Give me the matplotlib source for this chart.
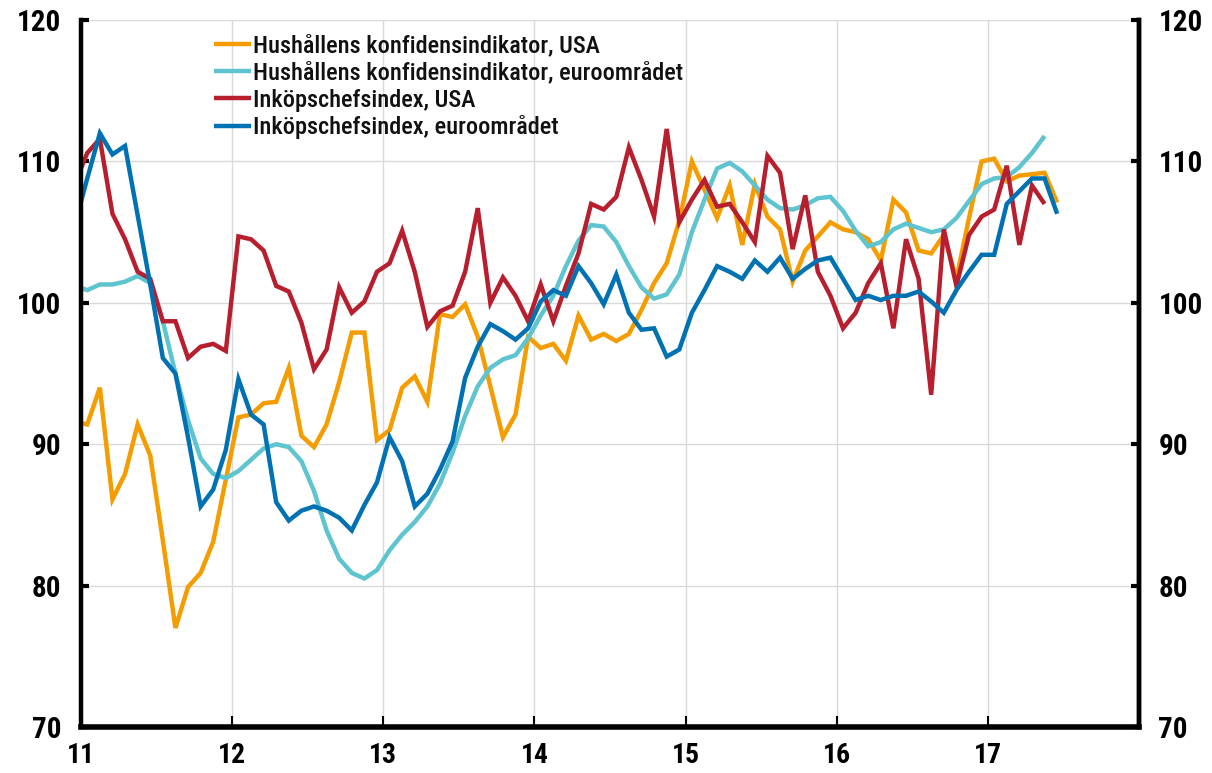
import numpy as np
import matplotlib
matplotlib.use("Agg")
import matplotlib.pyplot as plt
from matplotlib import font_manager as fm

# ---------------- data (monthly, Dec 2010 onward) ----------------
start_year = 2010
start_month = 12

konf_usa = [91.6, 91.4, 94.0, 86.1, 87.9, 91.4, 89.2, 83.2, 77.0, 79.9, 80.9, 83.1, 87.5,
            91.9, 92.1, 92.9, 93.0, 95.4, 90.6, 89.8, 91.4, 94.4, 97.9, 97.9, 90.3,
            91.0, 94.0, 94.8, 93.0, 99.2, 99.0, 99.9, 97.6, 94.1, 90.5, 92.1, 97.6,
            96.8, 97.1, 95.9, 99.1, 97.4, 97.8, 97.3, 97.8, 99.5, 101.4, 102.8, 105.8,
            110.0, 108.0, 106.0, 108.3, 104.1, 108.4, 106.1, 105.2, 101.5, 103.7, 104.7, 105.7,
            105.2, 105.0, 104.5, 103.0, 107.3, 106.4, 103.7, 103.5, 104.8, 101.7, 106.0, 110.0,
            110.2, 108.6, 109.0, 109.1, 109.2, 107.1]

konf_euro = [101.2, 100.9, 101.3, 101.3, 101.5, 101.9, 101.4, 98.7, 95.0, 91.7, 89.0, 87.9, 87.6,
             88.1, 88.9, 89.7, 90.0, 89.8, 88.8, 86.7, 83.9, 81.9, 80.9, 80.5, 81.1,
             82.5, 83.6, 84.5, 85.6, 87.2, 89.4, 92.0, 94.1, 95.4, 96.0, 96.3, 97.5,
             99.1, 100.5, 102.6, 104.4, 105.5, 105.4, 104.3, 102.6, 101.1, 100.3, 100.6, 102.0,
             105.0, 107.3, 109.5, 109.9, 109.3, 108.3, 107.3, 106.7, 106.6, 106.9, 107.4, 107.5,
             106.5, 105.1, 104.0, 104.3, 105.2, 105.6, 105.3, 105.0, 105.2, 106.0, 107.2, 108.4,
             108.8, 108.9, 109.6, 110.6, 111.8]

pmi_usa = [108.4, 110.6, 111.6, 106.3, 104.5, 102.2, 101.7, 98.7, 98.7, 96.1, 96.9, 97.1, 96.6,
           104.7, 104.5, 103.7, 101.2, 100.8, 98.6, 95.3, 96.7, 101.1, 99.3, 100.1, 102.2,
           102.8, 105.1, 102.2, 98.3, 99.4, 99.8, 102.2, 106.7, 100.0, 101.8, 100.5, 98.7,
           101.3, 98.7, 101.2, 103.5, 107.0, 106.6, 107.5, 111.0, 108.7, 106.1, 112.3, 105.7,
           107.3, 108.7, 106.8, 107.0, 105.7, 104.3, 110.4, 109.2, 103.8, 107.6, 102.2, 100.5,
           98.2, 99.3, 101.4, 102.8, 98.2, 104.5, 101.7, 93.5, 105.2, 101.2, 104.8, 106.1,
           106.6, 109.7, 104.1, 108.3, 107.0]

pmi_euro = [105.5, 108.8, 112.0, 110.5, 111.1, 106.2, 101.3, 96.1, 95.0, 90.5, 85.6, 86.8, 89.6,
            94.6, 92.1, 91.4, 85.9, 84.6, 85.3, 85.6, 85.3, 84.8, 83.9, 85.7, 87.3,
            90.5, 88.8, 85.6, 86.5, 88.2, 90.2, 94.7, 96.9, 98.5, 98.0, 97.4, 98.2,
            100.1, 100.9, 100.5, 102.6, 101.4, 99.9, 102.0, 99.3, 98.1, 98.2, 96.2, 96.7,
            99.3, 100.9, 102.6, 102.2, 101.7, 103.0, 102.2, 103.2, 101.7, 102.4, 103.0, 103.2,
            101.7, 100.2, 100.5, 100.2, 100.5, 100.5, 100.8, 100.1, 99.3, 100.9, 102.2, 103.4,
            103.4, 107.0, 107.9, 108.8, 108.8, 106.3]

series_labels = ["Hushållens konfidensindikator, USA",
                 "Hushållens konfidensindikator, euroområdet",
                 "Inköpschefsindex, USA",
                 "Inköpschefsindex, euroområdet"]
series_colors = ["#F59C00", "#5EC4D0", "#B81F2E", "#0072B4"]

x_ticks = [2011, 2012, 2013, 2014, 2015, 2016, 2017]
x_tick_labels = ["11", "12", "13", "14", "15", "16", "17"]
y_ticks = [70, 80, 90, 100, 110, 120]

# ---------------- fonts ----------------
avail = {f.name for f in fm.fontManager.ttflist}
family = "DejaVu Sans"
for cand in ["Liberation Sans Narrow", "Roboto Condensed", "Open Sans Condensed", "Liberation Sans"]:
    if cand in avail:
        family = cand
        break
plt.rcParams["font.family"] = [family, "DejaVu Sans"]


def month_pos(n):
    idx = np.arange(n)
    return start_year + (start_month - 1 + idx + 0.5) / 12.0


fig = plt.figure(figsize=(12.12, 7.73), dpi=100)
ax = fig.add_axes([0.0668, 0.0595, 0.873, 0.9145])

all_series = [konf_usa, konf_euro, pmi_usa, pmi_euro]
lines = []
for vals, lab, col in zip(all_series, series_labels, series_colors):
    xs = month_pos(len(vals))
    ln, = ax.plot(xs, vals, color=col, lw=3.2, label=lab, solid_joinstyle="miter",
                  solid_capstyle="butt", clip_on=True)
    lines.append(ln)

ax.set_xlim(2011, 2018)
ax.set_ylim(70, 120)
ax.set_yticks(y_ticks)
ax.set_xticks(x_ticks + [2018])
ax.set_xticklabels(x_tick_labels + [""])

ax.grid(True, color="#D9D9D9", lw=1.0)
ax.set_axisbelow(True)

for s in ["left", "right"]:
    ax.spines[s].set_linewidth(3.2)
    ax.spines[s].set_color("black")
ax.spines["bottom"].set_linewidth(4.0)
ax.spines["top"].set_visible(False)

ax.tick_params(axis="y", direction="in", length=6, width=3, labelsize=21, pad=14)
ax.tick_params(axis="x", direction="in", length=8, width=1.5, labelsize=20, pad=11)
for lbl in ax.get_xticklabels() + ax.get_yticklabels():
    lbl.set_fontweight("bold")

ax2 = ax.twinx()
ax2.set_ylim(70, 120)
ax2.set_yticks(y_ticks)
ax2.spines["top"].set_visible(False)
ax2.spines["right"].set_linewidth(3.2)
ax2.spines["left"].set_visible(False)
ax2.spines["bottom"].set_visible(False)
ax2.tick_params(axis="y", direction="in", length=6, width=3, labelsize=21, pad=14)
for lbl in ax2.get_yticklabels():
    lbl.set_fontweight("bold")

leg = ax.legend(handles=lines, loc="upper left", bbox_to_anchor=(0.117, 0.993),
                frameon=False, fontsize=17.5, handlelength=1.5, handletextpad=0.1,
                labelspacing=0.16, borderaxespad=0.0)
for t in leg.get_texts():
    t.set_color("#111111")
    t.set_fontweight("medium")

fig.savefig("out.png", dpi=100)
